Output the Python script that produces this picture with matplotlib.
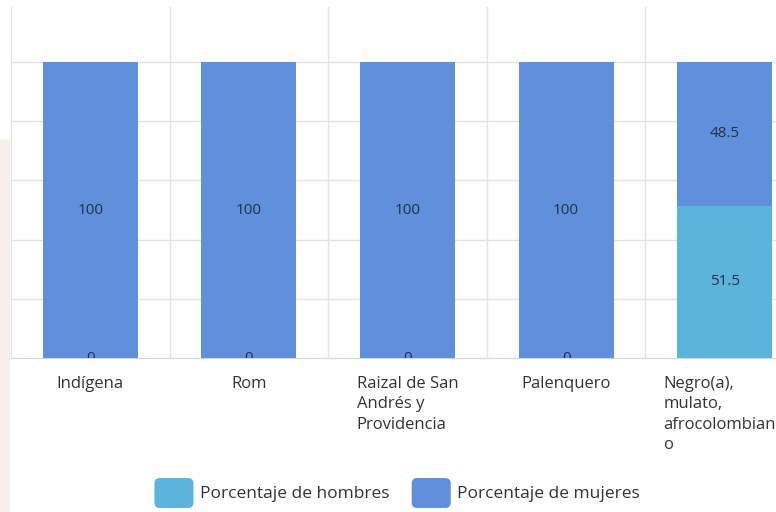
import matplotlib
matplotlib.use('Agg')
import matplotlib.pyplot as plt
import matplotlib.transforms as mtransforms
from matplotlib.patches import FancyBboxPatch, Rectangle
from matplotlib.legend_handler import HandlerPatch

# ---------------- data ----------------
categories = ['Indígena', 'Rom', 'Raizal de San\nAndrés y\nProvidencia',
              'Palenquero', 'Negro(a),\nmulato,\nafrocolombian\no']
hombres = [0, 0, 0, 0, 51.5]
mujeres = [100, 100, 100, 100, 48.5]
series_names = ['Porcentaje de hombres', 'Porcentaje de mujeres']
grid_values = [20, 40, 60, 80, 100]

# ---------------- style ----------------
plt.rcParams['font.family'] = ['Open Sans', 'DejaVu Sans']
C_H = '#5db4db'
C_M = '#6190db'
GRID = '#e2e2e2'
LABEL = '#1e3050'

W, H = 776, 512
fig = plt.figure(figsize=(W / 100, H / 100), dpi=100)
fig.patch.set_facecolor('white')

# faint watermark strip at the left edge
fig.patches.append(Rectangle((0, 0), 10 / W, 372 / H, transform=fig.transFigure,
                             facecolor='#f8eeeb', edgecolor='none', zorder=0))

ax = fig.add_axes([11 / W, (H - 358) / H, 793 / W, 351 / H])
x = list(range(len(categories)))
bh = ax.bar(x, hombres, width=0.6, color=C_H, zorder=3)
bm = ax.bar(x, mujeres, bottom=hombres, width=0.6, color=C_M, zorder=3)

ax.set_xlim(-0.5, len(categories) - 0.5)
ax.set_ylim(0, 118.6)
ax.set_yticks(grid_values)
ax.yaxis.grid(True, color=GRID, lw=1, zorder=0)
ax.set_xticks([i - 0.5 for i in range(len(categories) + 1)], minor=True)
ax.xaxis.grid(True, which='minor', color=GRID, lw=1, zorder=0)
ax.set_xticks(x)
ax.set_xticklabels(categories, ha='center', multialignment='left',
                   fontsize=12, color='#333333', linespacing=1.36)
ax.tick_params(axis='x', which='both', length=0, pad=13)
ax.tick_params(axis='y', length=0, labelleft=False)
for s in ['top', 'right', 'left']:
    ax.spines[s].set_visible(False)
ax.spines['bottom'].set_color('#d6d6d6')
ax.set_axisbelow(True)

# keep the last (right-most) label inside the picture
last = ax.get_xticklabels()[-1]
last.set_transform(last.get_transform() +
                   mtransforms.ScaledTranslation(-5 / 100, 0, fig.dpi_scale_trans))

# data labels
for i in x:
    ax.text(i, hombres[i] / 2, f'{hombres[i]:g}', ha='center', va='center',
            fontsize=11, color=LABEL, clip_on=True, zorder=4)
    ax.text(i, hombres[i] + mujeres[i] / 2, f'{mujeres[i]:g}', ha='center',
            va='center', fontsize=11, color=LABEL, clip_on=True, zorder=4)


class RoundHandler(HandlerPatch):
    def create_artists(self, legend, orig_handle, xdescent, ydescent, width,
                       height, fontsize, trans):
        p = FancyBboxPatch((-xdescent, -ydescent), width, height,
                           boxstyle=f'round,pad=0,rounding_size={height * 0.18}',
                           facecolor=orig_handle.get_facecolor(),
                           edgecolor='none', transform=trans)
        return [p]


handles = [Rectangle((0, 0), 1, 1, facecolor=C_H),
           Rectangle((0, 0), 1, 1, facecolor=C_M)]
fig.legend(handles, series_names, loc='center',
           bbox_to_anchor=(397 / W, 1 - 493 / H), ncol=2, frameon=False,
           fontsize=12.5, handlelength=2.25, handleheight=2.28,
           handletextpad=0.35, columnspacing=1.3, labelcolor='#333333',
           handler_map={Rectangle: RoundHandler()})

fig.savefig('out.png', dpi=100)
